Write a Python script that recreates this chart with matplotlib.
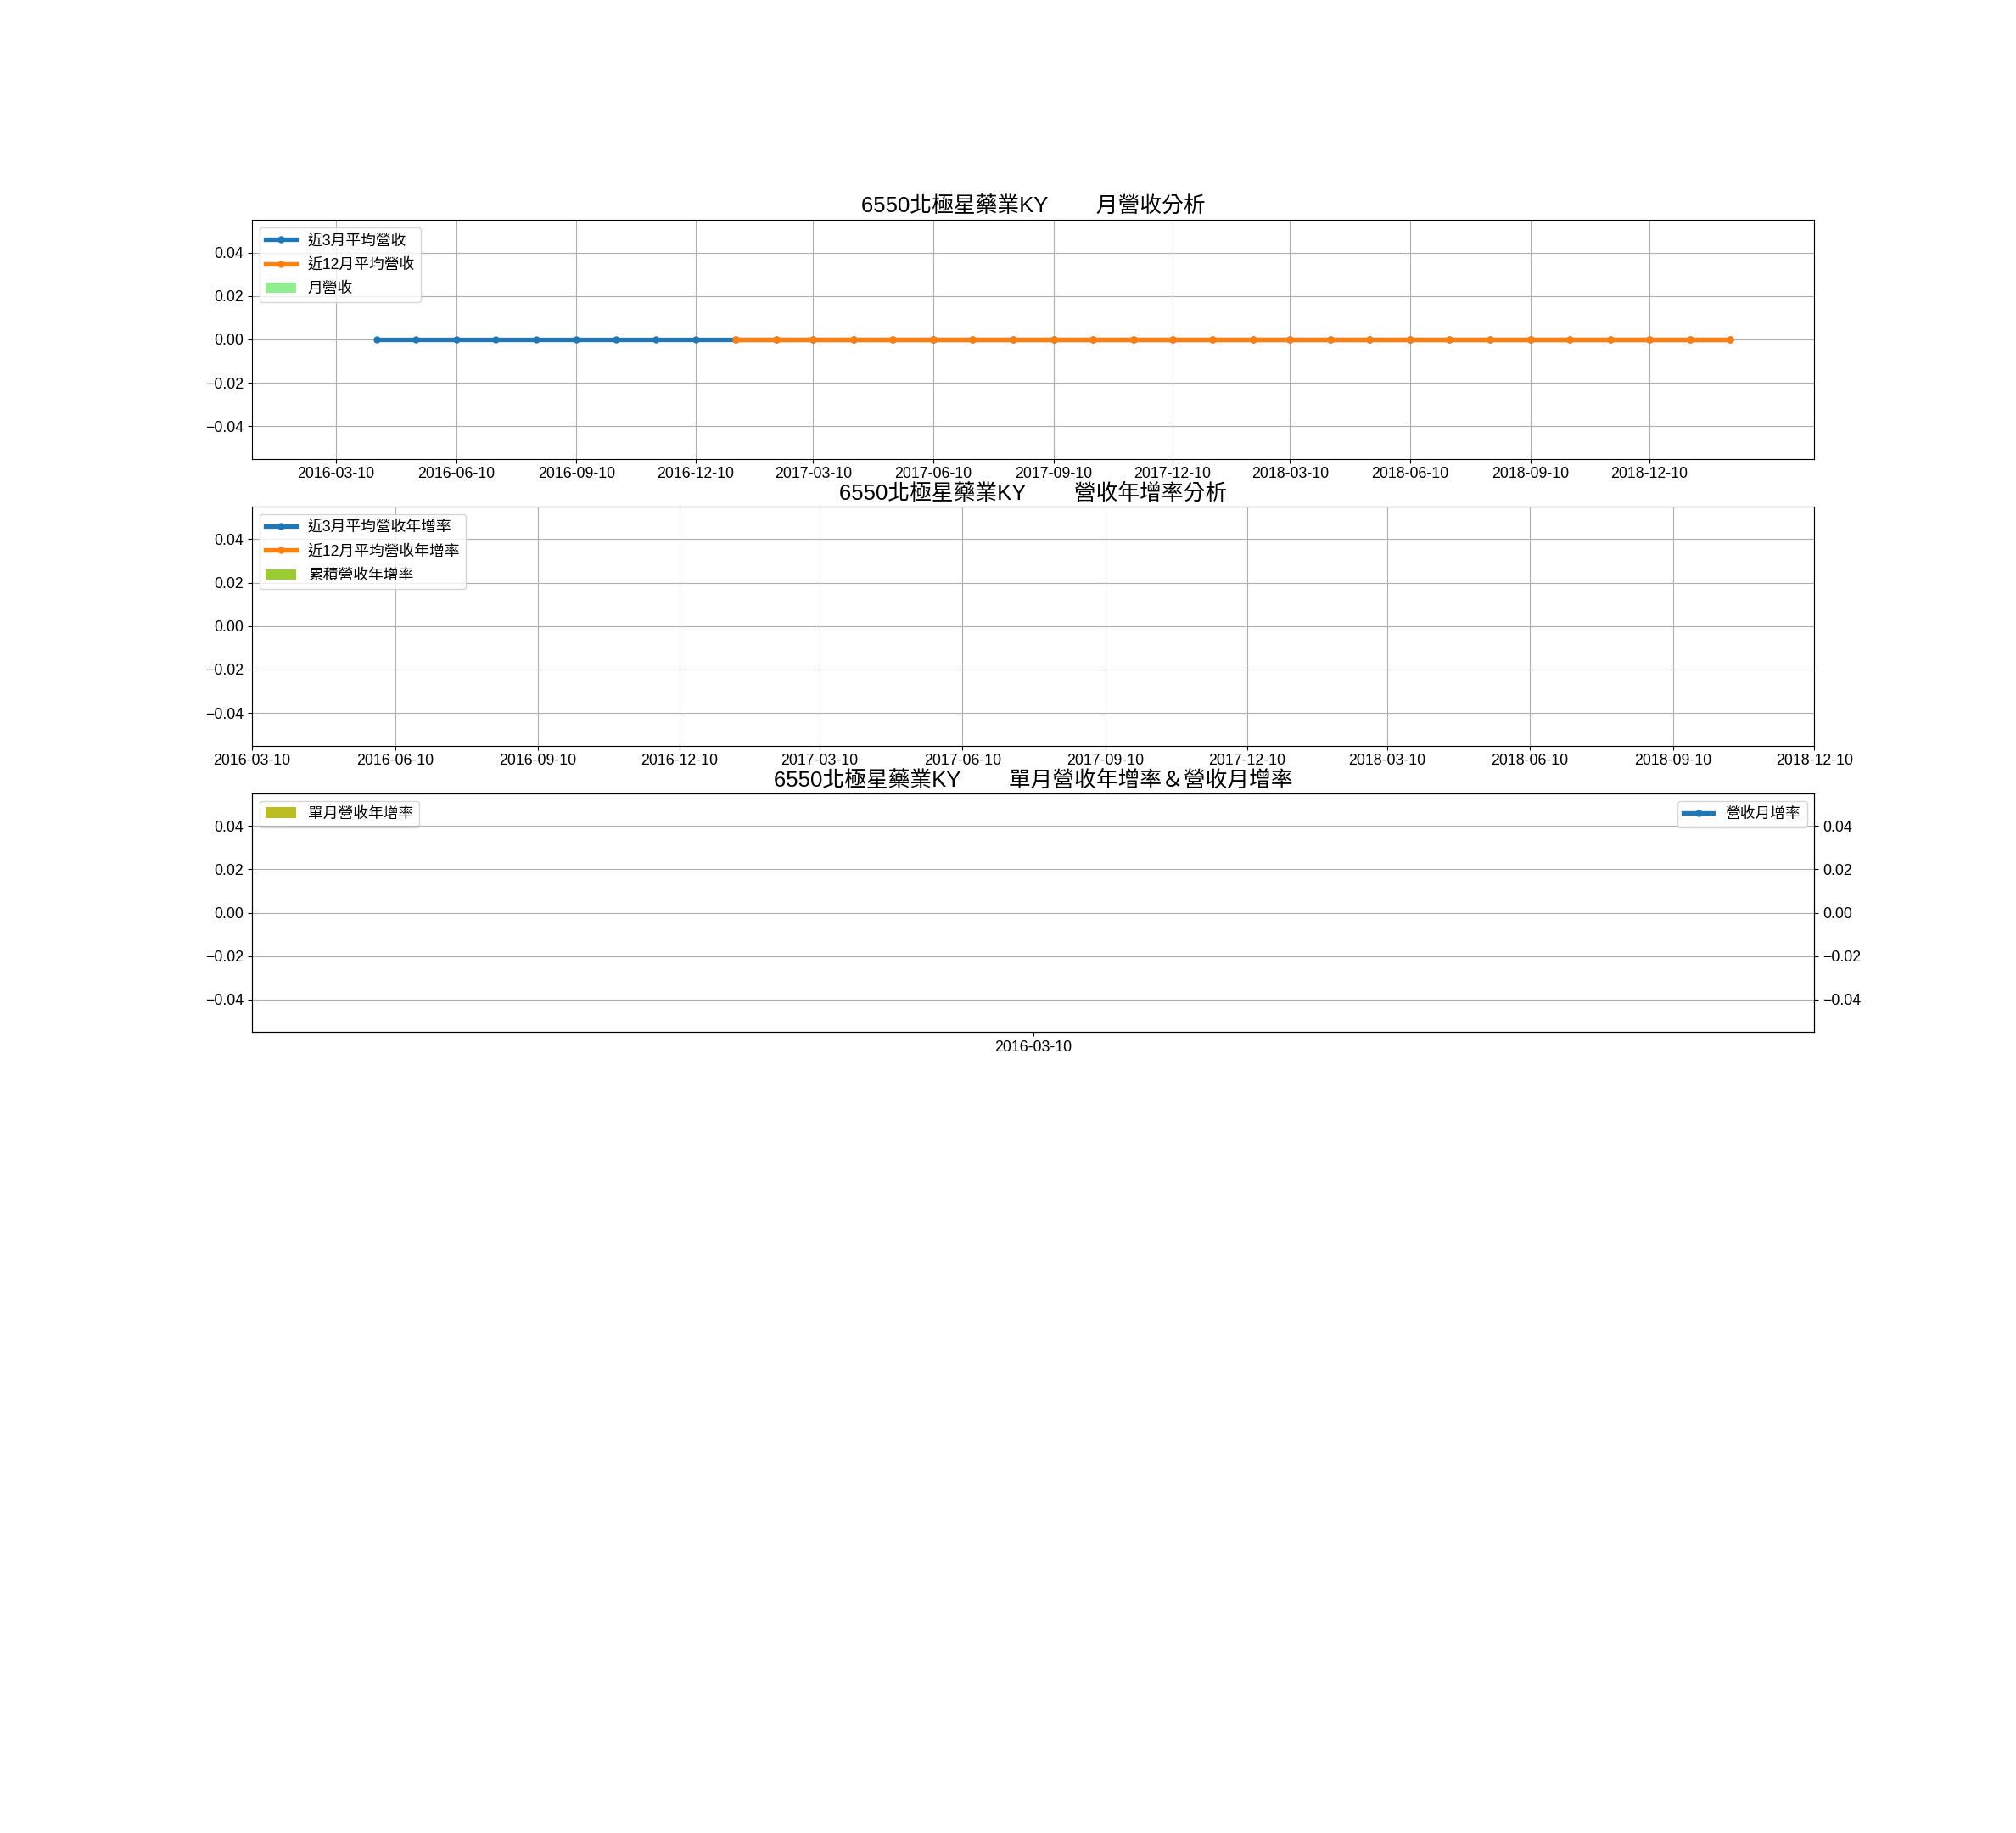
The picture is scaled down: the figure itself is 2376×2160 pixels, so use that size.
import numpy as np
import pandas as pd
import matplotlib
matplotlib.use('Agg')
import matplotlib.pyplot as plt
import matplotlib.dates as mdates

plt.rcParams['font.family'] = ['Liberation Sans', 'Noto Sans CJK TC']
plt.rcParams['font.size'] = 12.8
plt.rcParams['axes.unicode_minus'] = True
plt.rcParams['legend.labelspacing'] = 0.65

stock = '6550北極星藥業KY'

# monthly data (10th of each month)
months = pd.date_range('2016-03-01', '2019-02-01', freq='MS') + pd.Timedelta(days=9)
revenue = [0.0] * 36
avg3 = [np.nan] + [0.0] * 35
avg12 = [np.nan] * 10 + [0.0] * 26

# growth-rate panels: no values available
growth_dates = pd.date_range('2016-03-01', '2018-12-01', freq='3MS') + pd.Timedelta(days=9)
avg3_yoy = [np.nan] * len(growth_dates)
avg12_yoy = [np.nan] * len(growth_dates)
cum_yoy = [np.nan] * len(growth_dates)

single_dates = pd.to_datetime(['2016-03-10'])
month_yoy = [np.nan]
month_mom = [np.nan]

ticks1 = pd.date_range('2016-03-01', '2018-12-01', freq='3MS') + pd.Timedelta(days=9)
ticks2 = ticks1
ticks3 = single_dates

fig = plt.figure(figsize=(23.76, 21.6), dpi=100)
gs = fig.add_gridspec(5, 1, top=0.88, bottom=0.1241, left=0.125, right=0.9, hspace=0.2)
fmt = mdates.DateFormatter('%Y-%m-%d')
line_kw = dict(lw=3.8, marker='o', ms=5)

# panel 1
ax1 = fig.add_subplot(gs[0])
ax1.bar(months, revenue, width=20, color='lightgreen', label='月營收', zorder=1)
ax1.plot(months, avg3, color='#1f77b4', label='近3月平均營收', zorder=3, **line_kw)
ax1.plot(months, avg12, color='#ff7f0e', label='近12月平均營收', zorder=3, **line_kw)
ax1.legend(loc='upper left')
ax1.set_xticks(ticks1)
ax1.xaxis.set_major_formatter(fmt)
ax1.grid(True)
ax1.set_title(stock + '        月營收分析', fontsize=18.5)

# panel 2
ax2 = fig.add_subplot(gs[1])
ax2.bar(growth_dates, cum_yoy, width=20, color='yellowgreen', label='累積營收年增率')
ax2.plot(growth_dates, avg3_yoy, color='#1f77b4', label='近3月平均營收年增率', **line_kw)
ax2.plot(growth_dates, avg12_yoy, color='#ff7f0e', label='近12月平均營收年增率', **line_kw)
ax2.legend(loc='upper left')
ax2.set_xlim(ticks2[0], ticks2[-1])
ax2.set_ylim(-0.055, 0.055)
ax2.set_xticks(ticks2)
ax2.xaxis.set_major_formatter(fmt)
ax2.grid(True)
ax2.set_title(stock + '        營收年增率分析', fontsize=18.5)

# panel 3
ax3 = fig.add_subplot(gs[2])
ax3.bar(single_dates, month_yoy, width=20, color='#bcbd22', label='單月營收年增率')
ax3.legend(loc='upper left')
ax3.set_xlim(single_dates[0] - pd.Timedelta(days=365), single_dates[0] + pd.Timedelta(days=365))
ax3.set_ylim(-0.055, 0.055)
ax3.set_xticks(ticks3)
ax3.xaxis.set_major_formatter(fmt)
ax3b = ax3.twinx()
ax3b.plot(single_dates, month_mom, color='#1f77b4', label='營收月增率', **line_kw)
ax3b.set_ylim(-0.055, 0.055)
ax3b.legend(loc='upper right')
ax3b.grid(True)
ax3.set_title(stock + '        單月營收年增率＆營收月增率', fontsize=18.5)

fig.savefig('out.png', dpi=100)
